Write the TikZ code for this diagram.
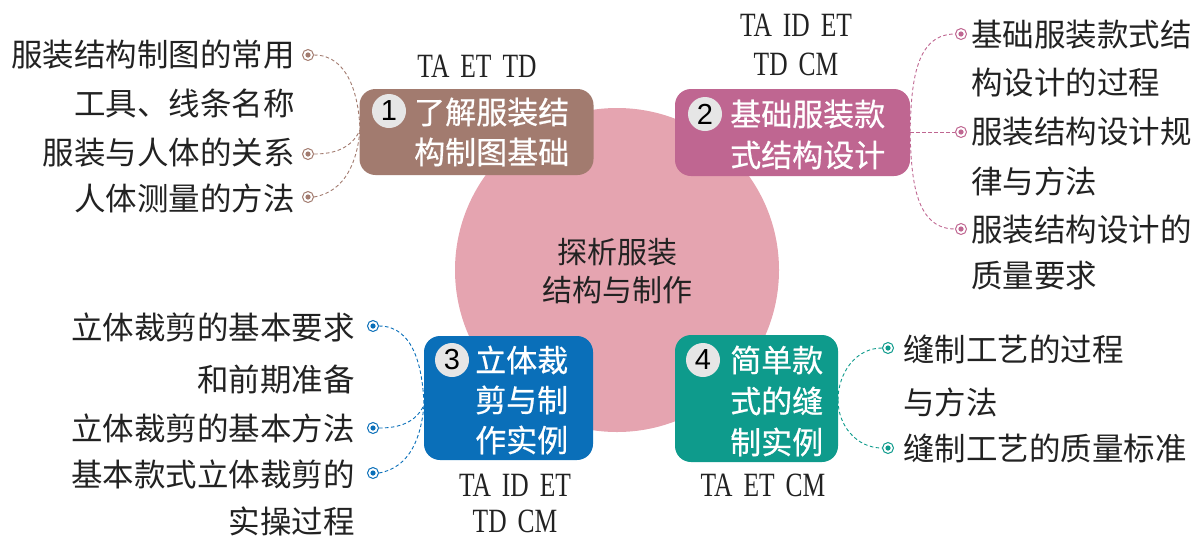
\documentclass[tikz,border=0pt]{standalone}
\usepackage{fontspec}
\setmainfont{Noto Sans CJK SC}
\newfontfamily\cjk{Noto Sans CJK SC}
\newfontfamily\cjkb[FakeBold=0.6]{Noto Sans CJK SC}
\newfontfamily\numfont{Liberation Sans}
\newfontfamily\tafont[FakeStretch=0.75]{Liberation Serif}
\newcommand\wsp{\hspace{11pt}}
\definecolor{cbrown}{HTML}{A27B6F}
\definecolor{cpink}{HTML}{BF6691}
\definecolor{cblue}{HTML}{0A6FB9}
\definecolor{cteal}{HTML}{0E9B8C}
\definecolor{cbig}{HTML}{E5A4B0}
\definecolor{cnum}{HTML}{E6E6E6}
\definecolor{ctext}{HTML}{222222}
\begin{document}
\begin{tikzpicture}[x=1pt,y=1pt,
  mbox/.style={rounded corners=16pt, inner sep=0pt, draw=none},
  leaf/.style={inner sep=0pt, font=\cjk\fontsize{31.5}{31.5}\selectfont, text=ctext},
  btxt/.style={inner sep=0pt, anchor=west, text=white, font=\cjkb\fontsize{31}{31}\selectfont},
  numc/.style={circle, fill=cnum, minimum size=34pt, inner sep=0pt, text=black, font=\numfont\fontsize{29}{29}\selectfont},
  tagt/.style={inner sep=0pt, text=ctext, font=\tafont\fontsize{34}{34}\selectfont},
  bul/.style={circle, draw=#1, fill=white, line width=1pt, minimum size=11pt, inner sep=0pt,
     path picture={\fill[#1] (path picture bounding box.center) circle (2.6pt);}},
  con/.style={draw=#1, dash pattern=on 3.5pt off 2.5pt, line width=0.9pt}]
\useasboundingbox (0,0) rectangle (1201,-539);

% big circle
\node[circle, fill=cbig, minimum size=324pt, inner sep=0pt] (big) at (617,-270) {};
\node[inner sep=0pt, text=ctext, font=\cjk\fontsize{30}{30}\selectfont] (c1) at (617,-252) {探析服装};
\node[inner sep=0pt, text=ctext, font=\cjk\fontsize{30}{30}\selectfont] (c2) at (617,-290) {结构与制作};

% boxes
\node[mbox, fill=cbrown, minimum width=234pt, minimum height=86pt] (b1) at (476.5,-132) {};
\node[mbox, fill=cpink, minimum width=235pt, minimum height=87pt] (b2) at (792.5,-132.5) {};
\node[mbox, fill=cblue, minimum width=169pt, minimum height=124pt] (b3) at (508.5,-398) {};
\node[mbox, fill=cteal, minimum width=163pt, minimum height=127pt] (b4) at (756.5,-398.5) {};

% numbers
\node[numc] (n1) at (389,-111) {1};
\node[numc] (n2) at (705,-114) {2};
\node[numc] (n3) at (452,-360) {3};
\node[numc] (n4) at (703,-360) {4};

% box texts
\node[btxt] (t1a) at (414,-112) {了解服装结};
\node[btxt] (t1b) at (414,-152) {构制图基础};
\node[btxt] (t2a) at (730,-114) {基础服装款};
\node[btxt] (t2b) at (730,-155) {式结构设计};
\node[btxt] (t3a) at (475,-360) {立体裁};
\node[btxt] (t3b) at (475,-400) {剪与制};
\node[btxt] (t3c) at (475,-440) {作实例};
\node[btxt] (t4a) at (730,-360) {简单款};
\node[btxt] (t4b) at (730,-401) {式的缝};
\node[btxt] (t4c) at (730,-442) {制实例};

% tags
\node[tagt] (g1) at (477,-66) {TA\wsp ET\wsp TD};
\node[tagt] (g2a) at (796,-25) {TA\wsp ID\wsp ET};
\node[tagt] (g2b) at (796,-64) {TD\wsp CM};
\node[tagt] (g3a) at (515,-485) {TA\wsp ID\wsp ET};
\node[tagt] (g3b) at (515,-521) {TD\wsp CM};
\node[tagt] (g4) at (763,-485) {TA\wsp ET\wsp CM};

% group 1 leaves
\node[leaf, anchor=east] (l1a) at (295,-55) {服装结构制图的常用};
\node[leaf, anchor=east] (l1b) at (295,-103) {工具、线条名称};
\node[leaf, anchor=east] (l1c) at (295,-153) {服装与人体的关系};
\node[leaf, anchor=east] (l1d) at (295,-198) {人体测量的方法};
\node[bul=cbrown] (a1) at (308,-55) {};
\node[bul=cbrown] (a2) at (308,-154) {};
\node[bul=cbrown] (a3) at (308,-197) {};
\coordinate (j1) at (360,-130);
\draw[con=cbrown] (a1.east) to[out=0,in=92] (j1);
\draw[con=cbrown] (a2.east) to[out=0,in=-115] (j1);
\draw[con=cbrown] (a3.east) to[out=10,in=-95] (j1);

% group 2 leaves
\node[leaf, anchor=west] (l2a) at (971,-35) {基础服装款式结};
\node[leaf, anchor=west] (l2b) at (971,-83) {构设计的过程};
\node[leaf, anchor=west] (l2c) at (971,-132) {服装结构设计规};
\node[leaf, anchor=west] (l2d) at (971,-181) {律与方法};
\node[leaf, anchor=west] (l2e) at (971,-230) {服装结构设计的};
\node[leaf, anchor=west] (l2f) at (971,-276) {质量要求};
\node[bul=cpink] (c2a) at (961,-34) {};
\node[bul=cpink] (c2b) at (961,-132) {};
\node[bul=cpink] (c2c) at (961,-229) {};
\coordinate (j2) at (910,-132);
\draw[con=cpink] (j2) to[out=88,in=180] (c2a.west);
\draw[con=cpink] (j2) -- (c2b.west);
\draw[con=cpink] (j2) to[out=-88,in=180] (c2c.west);

% group 3 leaves
\node[leaf, anchor=east] (l3a) at (355,-327) {立体裁剪的基本要求};
\node[leaf, anchor=east] (l3b) at (355,-380) {和前期准备};
\node[leaf, anchor=east] (l3c) at (355,-428) {立体裁剪的基本方法};
\node[leaf, anchor=east] (l3d) at (355,-474) {基本款式立体裁剪的};
\node[leaf, anchor=east] (l3e) at (355,-521) {实操过程};
\node[bul=cblue] (d1) at (373,-326) {};
\node[bul=cblue] (d2) at (373,-428) {};
\node[bul=cblue] (d3) at (373,-473) {};
\coordinate (j3) at (424,-405);
\draw[con=cblue] (d1.east) to[out=0,in=92] (j3);
\draw[con=cblue] (d2.east) to[out=0,in=-115] (j3);
\draw[con=cblue] (d3.east) to[out=10,in=-95] (j3);

% group 4 leaves
\node[leaf, anchor=west] (l4a) at (903,-349) {缝制工艺的过程};
\node[leaf, anchor=west] (l4b) at (903,-402) {与方法};
\node[leaf, anchor=west] (l4c) at (903,-448) {缝制工艺的质量标准};
\node[bul=cteal] (e1) at (888,-348) {};
\node[bul=cteal] (e2) at (888,-448) {};
\coordinate (j4) at (838,-400);
\draw[con=cteal] (j4) to[out=90,in=180] (e1.west);
\draw[con=cteal] (j4) to[out=-90,in=180] (e2.west);
\end{tikzpicture}
\end{document}
